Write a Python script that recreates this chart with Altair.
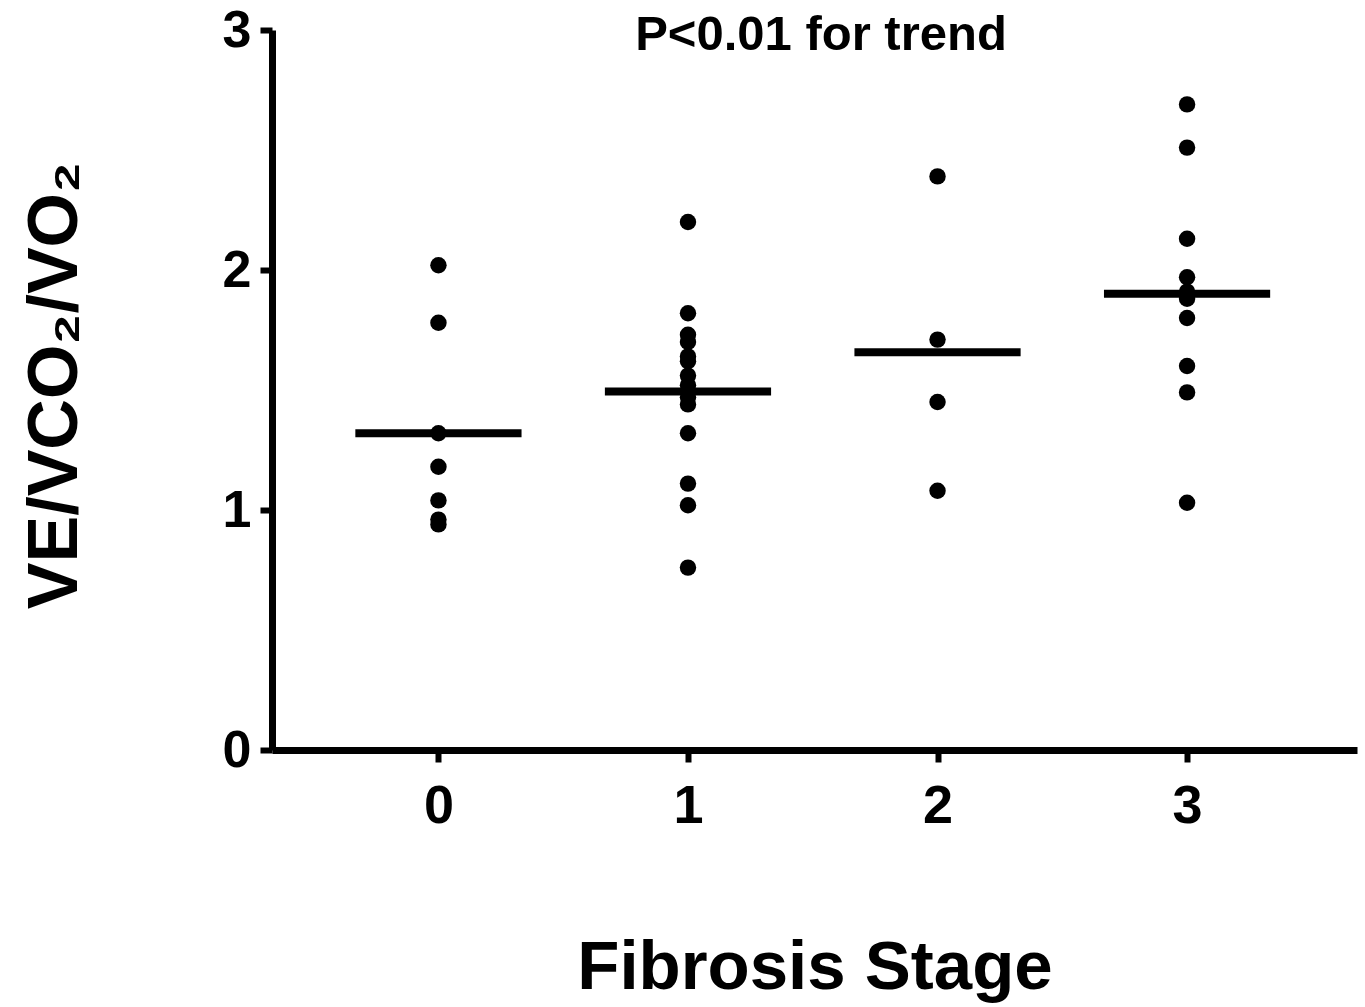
import altair as alt
import pandas as pd

stages = [0, 1, 2, 3]
stage0 = [2.02, 1.78, 1.32, 1.18, 1.04, 0.96, 0.94]
stage1 = [2.20, 1.82, 1.73, 1.70, 1.64, 1.62, 1.56, 1.52, 1.47, 1.44, 1.32, 1.11, 1.02, 0.76]
stage2 = [2.39, 1.71, 1.45, 1.08]
stage3 = [2.69, 2.51, 2.13, 1.97, 1.91, 1.88, 1.80, 1.60, 1.49, 1.03]
y_ticks = [0, 1, 2, 3]
annotation = ["P<0.01 for trend"]

rows = []
for s, vals in zip(stages, [stage0, stage1, stage2, stage3]):
    for v in vals:
        rows.append({"stage": s, "value": v})
df = pd.DataFrame(rows)

FONT = "Liberation Sans"
XT = "Fibrosis Stage"
YT = "VE/VCO\u2082/VO\u2082"

xscale = alt.Scale(domain=[-0.667, 3.681], nice=False, zero=False)
yscale = alt.Scale(domain=[0, 3], nice=False, zero=False)

x_axis = alt.Axis(values=stages, format="d", title=XT, labelPadding=17,
                  labelFontSize=54, titleFontSize=69, titlePadding=100)
y_axis = alt.Axis(values=y_ticks, format="d", title=YT, labelPadding=9,
                  labelFontSize=52, titleFontSize=70, titleAngle=270,
                  titleAlign="center", titleBaseline="middle",
                  titleX=-217, titleY=355)

points = alt.Chart(df).mark_circle(size=270, color="black", opacity=1).encode(
    x=alt.X("stage:Q", scale=xscale, axis=x_axis),
    y=alt.Y("value:Q", scale=yscale, axis=y_axis),
)

means = alt.Chart(df).transform_aggregate(
    mean="mean(value)", groupby=["stage"]
).transform_calculate(
    x1="datum.stage - 0.333", x2="datum.stage + 0.333"
).mark_rule(strokeWidth=8, color="black").encode(
    x=alt.X("x1:Q", scale=xscale, title=XT),
    x2="x2:Q",
    y=alt.Y("mean:Q", scale=yscale, title=YT),
)

note = alt.Chart(pd.DataFrame({"t": annotation})).mark_text(
    font=FONT, fontWeight="bold", fontSize=49, color="black",
    align="center", baseline="middle"
).encode(text="t:N", x=alt.value(549), y=alt.value(5))

chart = alt.layer(means, points, note).properties(
    width=1085, height=720,
    autosize=alt.AutoSizeParams(type="none"),
    padding={"left": 272, "top": 30, "right": 8, "bottom": 257},
    background="white",
).configure_view(stroke=None).configure_axis(
    grid=False, domainColor="black", domainWidth=7,
    tickColor="black", tickWidth=6, tickSize=12,
    labelFont=FONT, labelFontWeight="bold", labelColor="black",
    titleFont=FONT, titleFontWeight="bold", titleColor="black",
)

chart.save("out.html", embed_options={"renderer": "svg", "actions": False})
